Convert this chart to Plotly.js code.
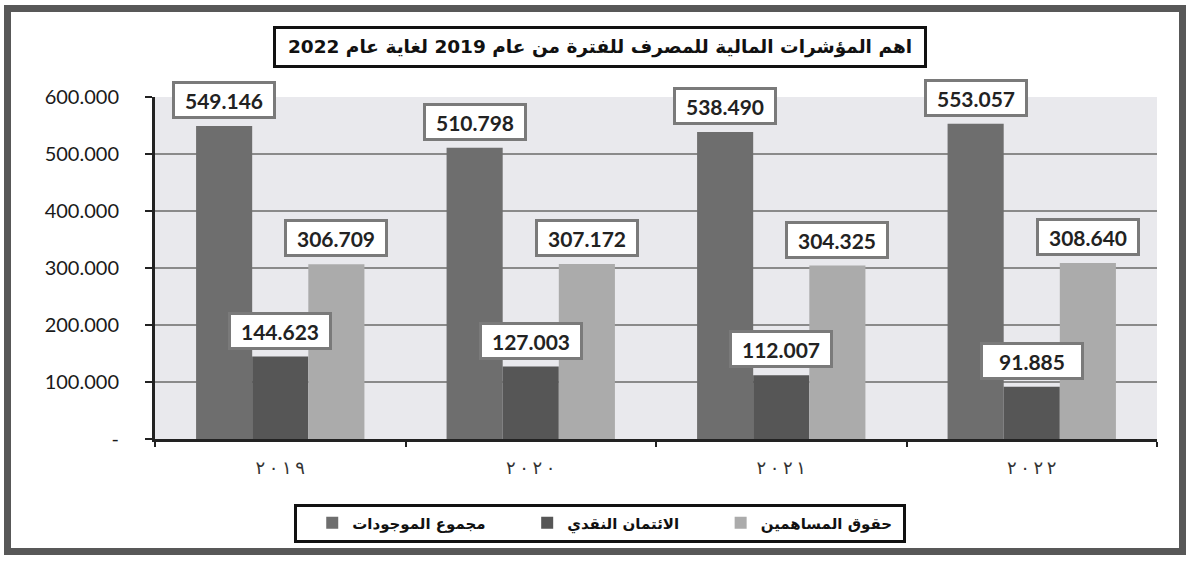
<!DOCTYPE html>
<html>
<head>
<meta charset="utf-8">
<script src="https://cdn.plot.ly/plotly-3.0.1.min.js"></script>
<style>
  html, body { margin: 0; padding: 0; background: #ffffff; }
  #wrap { position: relative; width: 1188px; height: 564px; }
  #chart { position: absolute; left: 0; top: 0; width: 1188px; height: 564px; }
  #frame { position: absolute; left: 4px; top: 5px; width: 1182px; height: 550px;
           box-sizing: border-box; border: 7px solid #585858; pointer-events: none; }
</style>
</head>
<body>
<div id="wrap">
  <div id="chart"></div>
  <div id="frame"></div>
</div>
<script>
// ---- data ----
const categories = ["٢٠١٩", "٢٠٢٠", "٢٠٢١", "٢٠٢٢"];
const seriesNames = ["مجموع الموجودات", "الائتمان النقدي", "حقوق المساهمين"];
const totalAssets = [549.146, 510.798, 538.490, 553.057];
const cashCredit = [144.623, 127.003, 112.007, 91.885];
const equity = [306.709, 307.172, 304.325, 308.640];
const yTickValues = [0, 100, 200, 300, 400, 500, 600];
const yTickLabels = ["-", "100.000", "200.000", "300.000", "400.000", "500.000", "600.000"];
const chartTitle = "اهم المؤشرات المالية للمصرف للفترة من عام 2019 لغاية عام 2022";

// ---- styling ----
const colors = ["#6e6e6e", "#565656", "#ababab"];
const seriesValues = [totalAssets, cashCredit, equity];
const W = 1188, H = 564;
const margin = { l: 155, r: 31, t: 97, b: 125 };
const bargap = 0.328;
const plotW = W - margin.l - margin.r;
const plotH = H - margin.t - margin.b;
const barPx = plotW / categories.length * (1 - bargap) / seriesValues.length;
const legendPads = ["\u00A0".repeat(7), "\u00A0".repeat(7), "\u00A0"];
// spaced display form of the category labels (LRM keeps digit order)
const xLabels = categories.map(c => Array.from(c).join("\u200E\u2009\u200E"));

const traces = seriesValues.map((vals, i) => ({
  type: "bar",
  name: seriesNames[i] + legendPads[i],
  x: xLabels,
  y: vals,
  marker: { color: colors[i], line: { width: 0 } },
  hoverinfo: "skip"
}));

const annotations = [];
seriesValues.forEach((vals, i) => {
  vals.forEach((v, j) => {
    annotations.push({
      x: j, y: v, xref: "x", yref: "y",
      xshift: (i - 1) * barPx, yshift: 7,
      yanchor: "bottom", xanchor: "center",
      text: v.toFixed(3), showarrow: false,
      font: { family: "Lato, 'Open Sans', sans-serif", size: 21, color: "#222222", weight: "bold" },
      bgcolor: "#ffffff", bordercolor: "#7a7a7a", borderwidth: 3, borderpad: 1,
      width: 96, height: 30
    });
  });
});

// title box
annotations.push({
  xref: "paper", yref: "paper",
  x: (600 - margin.l) / plotW, y: (H - margin.b - 47) / plotH,
  xanchor: "center", yanchor: "middle",
  text: "\u202B" + chartTitle + "\u202C", showarrow: false,
  font: { family: "'DejaVu Sans', sans-serif", size: 18.5, color: "#111111", weight: "bold" },
  bgcolor: "#ffffff", bordercolor: "#111111", borderwidth: 3, borderpad: 2,
  width: 644, height: 32
});

const layout = {
  width: W, height: H,
  margin: margin,
  paper_bgcolor: "#ffffff",
  plot_bgcolor: "#e9e9ed",
  barmode: "group",
  bargap: bargap,
  bargroupgap: 0,
  showlegend: true,
  legend: {
    orientation: "h",
    xref: "paper", yref: "paper",
    x: (600 - margin.l) / plotW, xanchor: "center",
    y: (H - margin.b - 523) / plotH, yanchor: "middle",
    bgcolor: "#ffffff", bordercolor: "#111111", borderwidth: 3,
    title: { text: "\u00A0", font: { size: 15 } },
    font: { family: "'DejaVu Sans', sans-serif", size: 15, color: "#111111", weight: "bold" },
    traceorder: "normal"
  },
  xaxis: {
    type: "category",
    range: [-0.5, 3.5],
    tickson: "boundaries",
    ticks: "outside", ticklen: 5, tickwidth: 2, tickcolor: "#222222",
    showline: true, linecolor: "#222222", linewidth: 3,
    showgrid: false, zeroline: false,
    ticklabelstandoff: 10,
    tickfont: { family: "'DejaVu Sans', sans-serif", size: 18, color: "#333333" }
  },
  yaxis: {
    range: [0, 600],
    tickmode: "array",
    tickvals: yTickValues,
    ticktext: yTickLabels,
    ticks: "outside", ticklen: 7, tickwidth: 2, tickcolor: "#222222",
    showline: true, linecolor: "#222222", linewidth: 3,
    showgrid: true, gridcolor: "#8a8a8a", gridwidth: 1.5,
    zeroline: false,
    ticklabelstandoff: 22,
    tickfont: { family: "Lato, 'Open Sans', sans-serif", size: 20, color: "#1a1a1a" }
  },
  annotations: annotations
};

Plotly.newPlot("chart", traces, layout, { displayModeBar: false, staticPlot: true });
</script>
</body>
</html>
